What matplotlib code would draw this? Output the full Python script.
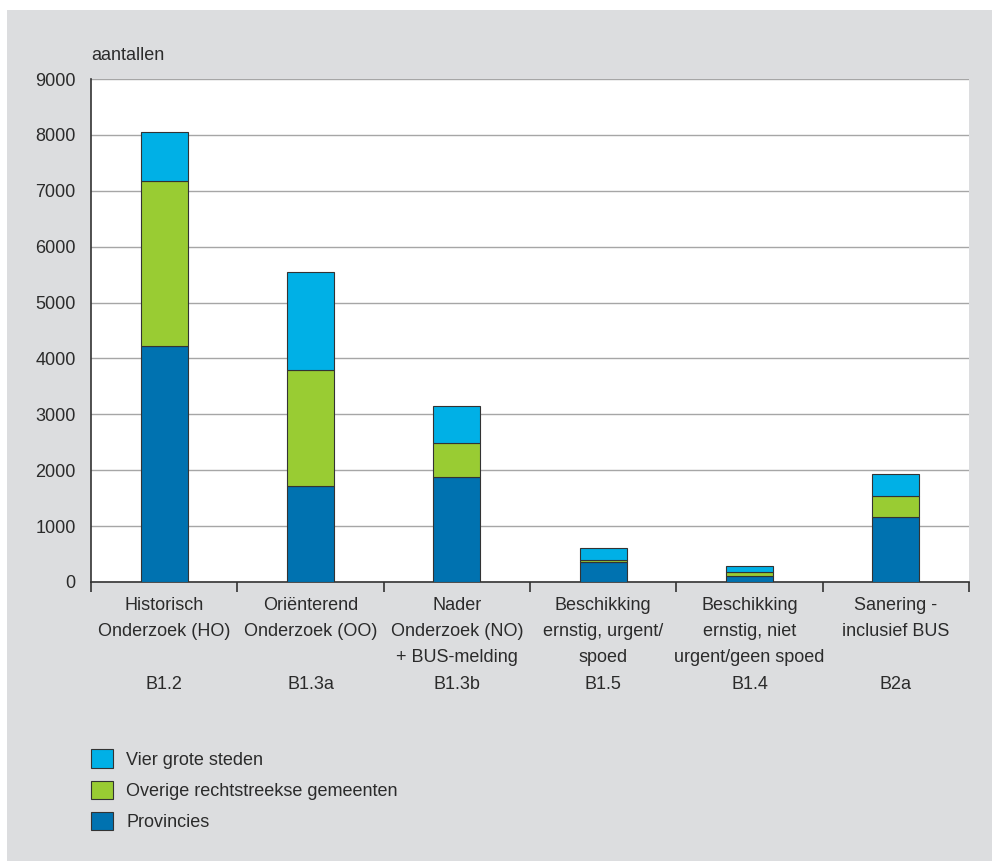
import matplotlib.pyplot as plt
import numpy as np
from matplotlib.patches import Rectangle

plt.rcParams['font.family'] = ['Liberation Sans', 'DejaVu Sans']

categories = ['Historisch\nOnderzoek (HO)\n\nB1.2',
              'Oriënterend\nOnderzoek (OO)\n\nB1.3a',
              'Nader\nOnderzoek (NO)\n+ BUS-melding\nB1.3b',
              'Beschikking\nernstig, urgent/\nspoed\nB1.5',
              'Beschikking\nernstig, niet\nurgent/geen spoed\nB1.4',
              'Sanering -\ninclusief BUS\n\nB2a']
provincies = [4220, 1720, 1880, 360, 105, 1160]
overige = [2950, 2070, 610, 25, 75, 380]
vier_steden = [890, 1750, 660, 225, 100, 390]

c_light = '#00b0e6'
c_green = '#99cc33'
c_dark = '#0072b0'
txt = '#2b2b2b'

fig = plt.figure(figsize=(9.92, 8.61), dpi=100, facecolor='white')
bg = Rectangle((7 / 992, 0), 1, 1 - 10 / 861, transform=fig.transFigure,
               facecolor='#dcdddf', edgecolor='none', zorder=-10)
fig.add_artist(bg)
ax = fig.add_axes([91 / 992, 1 - 582 / 861, 878 / 992, 503 / 861])
ax.set_facecolor('white')

x = np.arange(len(categories))
w = 0.32
p1 = ax.bar(x, provincies, w, color=c_dark, edgecolor='#333333', linewidth=0.8, label='Provincies', zorder=3)
bottom2 = np.array(provincies)
p2 = ax.bar(x, overige, w, bottom=bottom2, color=c_green, edgecolor='#333333', linewidth=0.8,
            label='Overige rechtstreekse gemeenten', zorder=3)
bottom3 = bottom2 + np.array(overige)
p3 = ax.bar(x, vier_steden, w, bottom=bottom3, color=c_light, edgecolor='#333333', linewidth=0.8,
            label='Vier grote steden', zorder=3)

ax.set_xlim(-0.5, len(categories) - 0.5)
ax.set_ylim(0, 9000)
ax.set_yticks(range(0, 9001, 1000))
ax.yaxis.grid(True, color='#a6a6a6', linewidth=1, zorder=0)
ax.tick_params(axis='y', length=0, pad=11, labelsize=13, labelcolor=txt)

ax.set_xticks(np.arange(-0.5, len(categories), 1))
ax.set_xticklabels([])
ax.set_xticks(x, minor=True)
ax.set_xticklabels(categories, minor=True, fontsize=13, color=txt, linespacing=1.7, va='top')
ax.tick_params(axis='x', which='major', length=7.2, width=1.2, color='#333333')
ax.tick_params(axis='x', which='minor', length=0, pad=11)

for s in ['top', 'right']:
    ax.spines[s].set_visible(False)
for s in ['left', 'bottom']:
    ax.spines[s].set_color('#333333')
    ax.spines[s].set_linewidth(1.2)

fig.text(91 / 992, 1 - 55 / 861, 'aantallen', fontsize=13, color=txt, ha='left', va='center')

fig.legend(handles=[p3, p2, p1], loc='upper left', bbox_to_anchor=(75 / 992, 1 - 733 / 861),
           frameon=False, fontsize=13, handlelength=1.2, handleheight=1.2,
           handletextpad=0.75, labelspacing=0.66, labelcolor=txt)

fig.savefig('out.png', dpi=100, facecolor='white')
